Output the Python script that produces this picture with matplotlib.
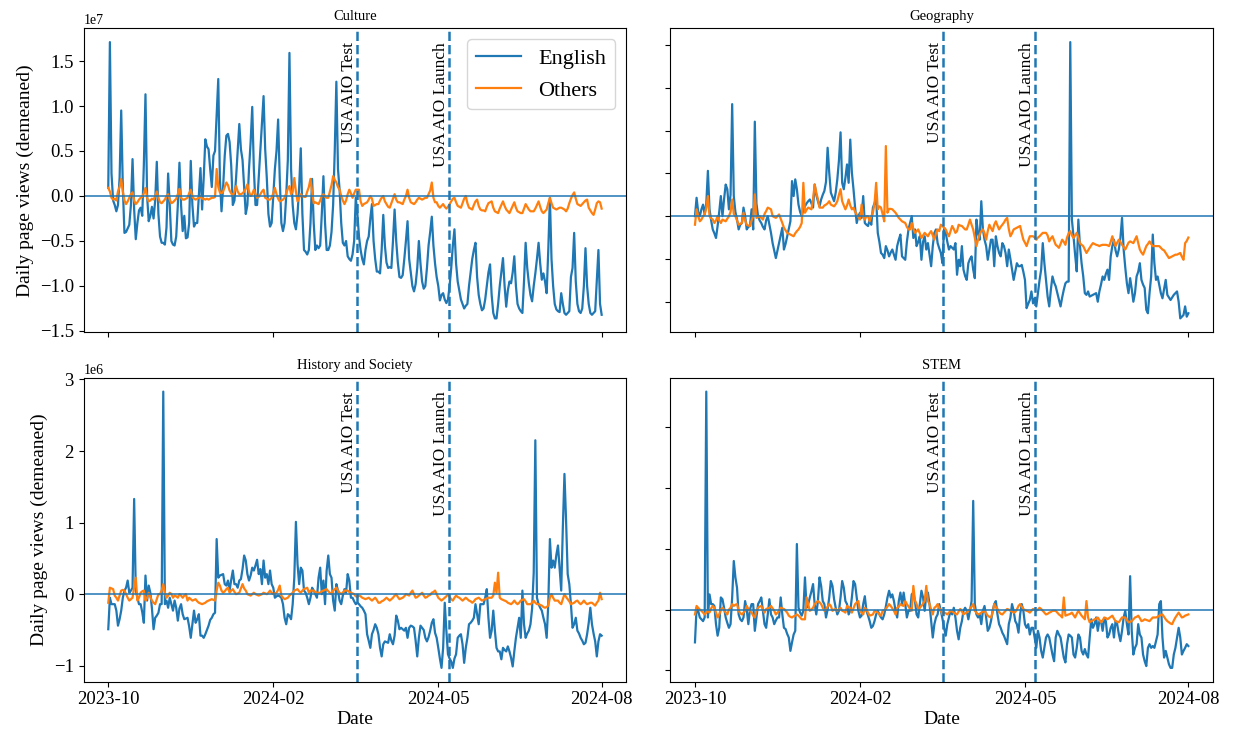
import matplotlib
matplotlib.use('Agg')
import matplotlib.pyplot as plt
import numpy as np
import pandas as pd

plt.rcParams['font.family'] = 'serif'
plt.rcParams['font.serif'] = ['Liberation Serif', 'DejaVu Serif']

start_date = '2023-10-01'
n_days = 306
tick_index = [0, 102, 204, 305]
tick_labels = ['2023-10', '2024-02', '2024-05', '2024-08']
event_names = ['USA AIO Test', 'USA AIO Launch']
event_dates = ['2024-03-02 14:00', '2024-04-28 12:00']
titles = ['Culture', 'Geography', 'History and Society', 'STEM']
scales = [1e7, 1.0, 1e6, 1.0]

culture_en = [
    0.09, 1.71, 0.25, -0.05, -0.10, -0.17, -0.10,
    0.20, 0.95, 0.10, -0.41, -0.40, -0.36, -0.32,
    -0.10, 0.41, -0.15, -0.48, -0.30, -0.16, -0.13,
    -0.22, 0.35, 1.13, 0.00, -0.28, -0.22, -0.12,
    -0.25, -0.05, 0.38, -0.20, -0.45, -0.52, -0.52,
    -0.54, -0.35, 0.25, -0.10, -0.50, -0.54, -0.55,
    -0.45, -0.10, 0.37, -0.10, -0.39, -0.22, -0.47,
    -0.46, -0.30, 0.39, -0.10, -0.34, -0.30, -0.30,
    0.00, 0.31, -0.15, 0.20, 0.63, 0.55, 0.52,
    0.30, 0.10, 0.45, 0.50, 0.90, 1.30, 0.20,
    -0.17, 0.10, 0.45, 0.67, 0.69, 0.60, 0.34,
    -0.10, -0.05, 0.20, 0.50, 0.80, 0.52, 0.40,
    0.10, -0.20, -0.10, 0.30, 0.60, 0.99, 0.30,
    -0.10, -0.10, 0.20, 0.50, 0.80, 1.11, 0.52,
    0.20, -0.20, -0.34, -0.30, 0.00, 0.30, 0.50,
    0.85, 0.20, -0.30, -0.39, -0.30, 0.00, 0.40,
    1.59, 0.30, -0.10, -0.30, -0.37, -0.20, 0.10,
    0.53, -0.20, -0.60, -0.62, -0.65, -0.60, -0.30,
    0.19, -0.30, -0.60, -0.55, -0.58, -0.55, -0.20,
    0.22, -0.30, -0.60, -0.60, -0.55, -0.40, -0.10,
    0.50, 1.27, 0.30, 0.07, -0.30, -0.52, -0.55,
    -0.50, -0.67, -0.70, -0.72, -0.65, -0.50, -0.02,
    -0.20, -0.45, -0.60, -0.70, -0.76, -0.60, -0.50,
    -0.45, -0.25, -0.09, -0.50, -0.70, -0.84, -0.84,
    -0.86, -0.60, -0.21, -0.55, -0.74, -0.80, -0.79,
    -0.80, -0.50, -0.15, -0.50, -0.74, -0.90, -0.91,
    -0.88, -0.70, -0.50, -0.28, -0.70, -0.85, -1.00,
    -1.06, -0.98, -0.80, -0.50, -0.75, -0.95, -1.03,
    -1.00, -0.80, -0.55, -0.40, -0.23, -0.55, -0.75,
    -0.90, -1.00, -1.16, -1.10, -1.08, -1.15, -1.19,
    -1.15, -1.00, -0.80, -0.55, -0.37, -0.75, -0.95,
    -1.05, -1.15, -1.20, -1.25, -1.22, -1.20, -1.00,
    -0.85, -0.70, -0.60, -0.52, -0.90, -1.10, -1.20,
    -1.27, -1.25, -1.15, -1.00, -0.85, -0.76, -1.10,
    -1.30, -1.36, -1.36, -1.20, -1.00, -0.85, -0.69,
    -1.00, -1.23, -1.05, -0.95, -0.97, -0.85, -0.67,
    -1.00, -1.20, -1.25, -1.28, -1.30, -0.95, -0.52,
    -0.80, -0.97, -1.10, -1.17, -1.00, -0.86, -0.70,
    -0.52, -0.75, -0.93, -0.86, -0.95, -1.08, -0.60,
    -0.02, -0.70, -1.00, -1.20, -1.26, -1.28, -1.29,
    -1.08, -1.20, -1.30, -1.32, -1.30, -1.28, -0.90,
    -0.80, -0.41, -0.95, -1.20, -1.28, -1.30, -1.25,
    -1.00, -0.58, -1.00, -1.20, -1.30, -1.32, -1.30,
    -1.28, -0.95, -0.60, -1.20, -1.32,
]

culture_ot = [
    0.09, 0.05, -0.02, -0.04, -0.03, -0.05, 0.05,
    0.10, 0.19, 0.05, -0.05, -0.09, -0.06, -0.02,
    0.02, 0.04, -0.05, -0.09, -0.07, -0.04, -0.02,
    -0.01, 0.03, 0.09, -0.02, -0.06, -0.05, -0.03,
    -0.04, 0.00, 0.05, -0.02, -0.07, -0.08, -0.06,
    -0.04, 0.00, 0.02, -0.04, -0.08, -0.07, -0.05,
    -0.03, 0.02, 0.08, -0.02, -0.04, -0.04, -0.03,
    -0.02, 0.03, 0.07, -0.01, -0.03, -0.04, -0.03,
    -0.02, 0.00, -0.03, -0.03, -0.04, -0.03, -0.04,
    -0.03, -0.02, -0.02, -0.01, 0.30, 0.10, 0.04,
    0.03, 0.05, 0.10, 0.15, 0.12, 0.06, 0.03,
    0.00, 0.05, 0.11, 0.05, 0.02, 0.02, 0.03,
    0.05, 0.08, 0.13, 0.05, 0.00, 0.02, 0.07,
    0.02, -0.02, -0.01, 0.02, 0.05, 0.07, -0.02,
    -0.03, -0.04, -0.04, -0.02, 0.03, 0.09, 0.02,
    -0.03, -0.06, -0.05, -0.04, -0.02, 0.03, 0.08,
    0.11, 0.02, 0.05, 0.20, 0.05, -0.06, -0.02,
    0.02, 0.00, -0.01, -0.01, 0.05, 0.10, 0.19,
    0.05, -0.08, -0.07, -0.08, -0.09, -0.05, 0.00,
    0.02, -0.01, -0.02, -0.02, 0.05, 0.12, 0.22,
    0.18, 0.15, 0.10, 0.07, 0.00, -0.05, -0.09,
    -0.05, 0.02, 0.07, 0.03, -0.02, 0.03, 0.07,
    0.07, 0.07, -0.06, -0.11, -0.09, -0.08, -0.07,
    -0.04, 0.00, -0.03, -0.11, -0.10, -0.09, -0.09,
    -0.05, -0.02, 0.00, -0.06, -0.09, -0.12, -0.13,
    -0.08, -0.03, 0.02, -0.04, -0.07, -0.07, -0.08,
    -0.09, -0.04, 0.00, 0.07, -0.02, -0.07, -0.08,
    -0.09, -0.07, -0.04, -0.02, -0.03, -0.04, -0.03,
    -0.02, -0.02, 0.02, 0.06, 0.15, -0.02, -0.07,
    -0.07, -0.11, -0.13, -0.11, -0.09, -0.12, -0.14,
    -0.12, -0.09, -0.06, -0.03, -0.02, -0.07, -0.11,
    -0.12, -0.13, -0.08, -0.03, 0.00, -0.08, -0.13,
    -0.14, -0.15, -0.10, -0.06, -0.04, -0.11, -0.15,
    -0.16, -0.16, -0.17, -0.12, -0.08, -0.07, -0.06,
    -0.13, -0.17, -0.18, -0.19, -0.14, -0.10, -0.06,
    -0.11, -0.15, -0.17, -0.19, -0.15, -0.11, -0.07,
    -0.13, -0.17, -0.18, -0.19, -0.19, -0.14, -0.09,
    -0.12, -0.15, -0.17, -0.17, -0.17, -0.14, -0.10,
    -0.06, -0.12, -0.17, -0.19, -0.17, -0.15, -0.08,
    -0.02, -0.08, -0.13, -0.14, -0.15, -0.14, -0.13,
    -0.13, -0.14, -0.15, -0.17, -0.14, -0.08, -0.03,
    0.01, 0.04, -0.03, -0.09, -0.10, -0.11, -0.09,
    -0.07, -0.05, -0.04, -0.13, -0.16, -0.19, -0.21,
    -0.15, -0.08, -0.06, -0.07, -0.14,
]

geography_en = [
    0.00, 0.43, 0.10, 0.00, 0.16, 0.27, 0.04,
    0.30, 1.06, 0.16, -0.10, -0.31, -0.40, -0.51,
    -0.23, 0.10, 0.47, 0.00, 0.40, 0.74, 0.63,
    0.16, 0.50, 2.62, 0.47, 0.10, -0.08, -0.31,
    -0.20, -0.16, 0.20, 0.00, -0.31, -0.25, -0.23,
    0.16, -0.31, 2.21, 0.30, 0.00, -0.10, -0.16,
    -0.25, -0.31, -0.10, 0.00, -0.20, -0.39, -0.63,
    -0.80, -0.98, -0.80, -0.63, -0.45, -0.27, -0.78,
    -0.65, -0.47, -0.30, -0.12, 0.82, 0.47, 0.86,
    0.63, 0.27, 0.10, 0.00, 0.15, 0.23, 0.30,
    0.35, 0.39, 0.30, 0.20, 0.74, 0.50, 0.35,
    0.23, 0.39, 0.50, 0.59, 0.80, 1.60, 1.02,
    0.55, 0.45, 0.35, 0.55, 0.86, 1.30, 1.96,
    0.78, 0.63, 0.90, 1.21, 0.78, 1.79, 1.02,
    0.63, 0.20, -0.16, 0.00, 0.08, -0.04, 0.47,
    -0.16, -0.20, -0.23, -0.08, -0.20, 0.20, 0.30,
    0.43, -0.39, -0.60, -0.86, -0.90, -0.98, -0.70,
    -0.80, -0.94, -0.85, -0.78, -0.90, -1.02, -0.70,
    -0.55, -0.43, -0.94, -0.98, -1.02, -0.60, -0.31,
    -0.15, 0.00, -0.51, -0.31, -0.70, -0.60, -0.47,
    -1.02, -0.60, -0.47, -0.78, -0.63, -0.90, -1.17,
    -0.70, -0.39, -0.31, -0.63, -0.75, -0.86, -1.10,
    -0.27, -0.39, -0.60, -0.78, -0.70, -0.74, -0.78,
    -0.63, -1.37, -1.02, -1.17, -0.70, -1.25, -1.40,
    -1.49, -1.10, -1.00, -0.94, -1.25, -1.45, -0.08,
    -0.40, -0.55, 0.35, -0.31, -0.55, -0.70, -1.02,
    -0.78, -0.55, -0.55, -1.17, -0.47, -0.70, -0.86,
    -0.94, -0.63, -0.70, -0.86, -1.17, -0.78, -1.00,
    -1.25, -1.49, -1.30, -1.10, -1.17, -1.17, -1.14,
    -1.30, -1.49, -2.15, -2.05, -1.96, -1.76, -2.04,
    -1.92, -2.11, -1.80, -1.50, -1.25, -0.63, -1.10,
    -1.50, -1.88, -2.11, -1.72, -1.41, -1.55, -1.64,
    -1.80, -1.96, -2.11, -1.90, -1.72, -1.57, -1.53,
    -1.53, 4.07, -0.08, -0.47, -0.90, -1.29, -0.08,
    -0.70, -1.10, -1.40, -1.80, -1.84, -1.76, -1.88,
    -1.86, -1.84, -1.82, -1.80, -2.00, -1.76, -1.60,
    -1.41, -1.49, -1.35, -1.25, -1.49, -0.94, -0.70,
    -0.55, -0.80, -0.94, -0.78, -0.51, -0.04, -0.78,
    -1.20, -1.57, -1.80, -1.45, -1.70, -2.00, -1.80,
    -1.41, -1.30, -1.10, -1.49, -1.60, -1.68, -2.19,
    -2.27, -1.80, -1.41, -0.43, -1.10, -1.49, -1.41,
    -1.60, -1.80, -1.92, -1.70, -1.49, -1.84, -1.90,
    -1.96, -1.90, -1.84, -1.80, -1.76, -2.00, -2.39,
    -2.35, -2.31, -2.11, -2.35, -2.27,
]

geography_ot = [
    -0.20, 0.16, 0.00, -0.12, -0.08, 0.00, 0.04,
    0.20, 0.47, 0.00, -0.05, -0.08, -0.16, -0.10,
    0.00, -0.10, -0.16, -0.08, -0.10, -0.12, -0.06,
    0.00, 0.10, 0.39, 0.05, 0.00, -0.10, -0.20,
    -0.18, -0.16, 0.08, -0.10, -0.20, -0.22, -0.23,
    -0.10, 0.00, 0.51, -0.04, -0.02, 0.00, -0.04,
    -0.08, 0.05, 0.12, 0.20, 0.18, 0.16, 0.00,
    -0.02, -0.04, 0.00, 0.04, -0.06, -0.16, -0.27,
    -0.33, -0.39, -0.41, -0.43, -0.45, -0.47, -0.40,
    -0.35, -0.31, -0.25, -0.16, 0.78, 0.08, 0.15,
    0.20, 0.18, 0.16, 0.40, 0.74, 0.55, 0.40,
    0.20, 0.20, 0.20, 0.25, 0.27, 0.30, 0.35,
    0.27, 0.25, 0.23, 0.28, 0.35, 0.50, 0.63,
    0.35, 0.25, 0.16, 0.25, 0.39, 0.25, 0.16,
    0.20, 0.10, 0.04, -0.02, -0.08, 0.27, -0.02,
    -0.08, 0.00, 0.00, -0.12, 0.00, 0.08, 0.30,
    0.78, 0.16, 0.23, 0.20, 0.05, -0.12, 1.64,
    0.08, 0.17, 0.17, 0.16, 0.12, 0.08, 0.02,
    -0.04, -0.08, -0.12, -0.14, -0.16, -0.25, -0.31,
    -0.31, -0.16, -0.30, -0.39, -0.35, -0.31, -0.40,
    -0.51, -0.45, -0.39, -0.43, -0.47, -0.40, -0.35,
    -0.45, -0.55, -0.40, -0.31, -0.35, -0.20, -0.23,
    -0.27, -0.31, -0.40, -0.47, -0.35, -0.23, -0.30,
    -0.39, -0.35, -0.20, -0.22, -0.23, -0.27, -0.31,
    -0.31, -0.20, -0.08, -0.20, -0.31, -0.50, -0.70,
    -0.55, -0.43, -0.35, -0.31, -0.40, -0.55, -0.35,
    -0.20, -0.28, -0.35, -0.20, -0.12, -0.22, -0.31,
    -0.25, -0.20, -0.15, -0.08, -0.04, -0.30, -0.47,
    -0.40, -0.31, -0.29, -0.27, -0.25, -0.23, -0.40,
    -0.55, -0.62, -0.70, -0.58, -0.47, -0.47, -0.47,
    -0.50, -0.55, -0.50, -0.47, -0.43, -0.39, -0.39,
    -0.39, -0.45, -0.59, -0.52, -0.47, -0.57, -0.67,
    -0.70, -0.74, -0.65, -0.55, -0.60, -0.67, -0.50,
    -0.40, -0.35, -0.45, -0.51, -0.45, -0.39, -0.50,
    -0.63, -0.67, -0.70, -0.78, -0.86, -0.80, -0.74,
    -0.68, -0.63, -0.65, -0.67, -0.68, -0.70, -0.68,
    -0.67, -0.67, -0.67, -0.68, -0.70, -0.60, -0.47,
    -0.60, -0.70, -0.62, -0.55, -0.60, -0.67, -0.72,
    -0.78, -0.70, -0.62, -0.59, -0.61, -0.63, -0.55,
    -0.47, -0.62, -0.78, -0.85, -0.90, -0.80, -0.70,
    -0.65, -0.59, -0.65, -0.70, -0.70, -0.70, -0.70,
    -0.70, -0.74, -0.78, -0.80, -0.86, -0.92, -0.98,
    -0.96, -0.94, -0.92, -0.90, -0.90, -0.88, -0.86,
    -0.95, -1.02, -0.63, -0.58, -0.50,
]

history_en = [
    -0.49, -0.05, -0.14, -0.14, -0.14, -0.23, -0.44,
    -0.35, -0.23, -0.05, 0.05, 0.09, 0.19, 0.02,
    0.05, 0.09, 1.33, 0.05, -0.05, -0.14, -0.14,
    -0.25, -0.40, 0.26, -0.09, 0.12, 0.02, -0.20,
    -0.49, -0.33, -0.30, -0.26, -0.14, -0.14, 2.83,
    -0.14, -0.09, -0.19, -0.05, -0.14, -0.23, -0.09,
    -0.19, -0.37, -0.20, -0.14, -0.28, -0.35, -0.34,
    -0.33, -0.45, -0.61, -0.42, -0.23, -0.40, -0.35,
    -0.28, -0.58, -0.58, -0.61, -0.56, -0.50, -0.44,
    -0.36, -0.33, -0.28, -0.26, 0.77, 0.23, 0.26,
    0.27, 0.28, 0.14, 0.12, 0.19, 0.05, 0.20,
    0.33, 0.14, 0.14, 0.09, 0.19, 0.21, 0.35,
    0.54, 0.47, 0.28, 0.19, 0.26, 0.37, 0.33,
    0.40, 0.48, 0.28, 0.35, 0.14, 0.47, 0.23,
    0.28, 0.14, 0.33, 0.14, 0.09, -0.05, -0.03,
    -0.02, -0.03, -0.05, -0.14, -0.33, -0.42, -0.28,
    -0.30, -0.35, -0.14, 0.23, 1.01, 0.42, 0.14,
    0.37, 0.33, 0.05, 0.02, -0.05, -0.14, -0.05,
    0.09, 0.05, 0.00, -0.05, 0.23, 0.37, 0.00,
    0.19, -0.14, 0.33, 0.54, 0.28, 0.23, -0.09,
    -0.23, 0.14, 0.05, -0.09, -0.14, -0.02, 0.07,
    0.02, 0.28, 0.19, -0.05, -0.05, -0.10, -0.14,
    -0.12, -0.14, -0.17, -0.19, -0.23, -0.28, -0.56,
    -0.65, -0.75, -0.56, -0.50, -0.42, -0.47, -0.56,
    -0.75, -0.87, -0.70, -0.66, -0.67, -0.68, -0.56,
    -0.65, -0.70, -0.58, -0.30, -0.37, -0.49, -0.47,
    -0.49, -0.51, -0.47, -0.61, -0.47, -0.44, -0.45,
    -0.47, -0.65, -0.87, -0.61, -0.44, -0.47, -0.50,
    -0.61, -0.66, -0.60, -0.51, -0.40, -0.35, -0.54,
    -0.61, -0.75, -0.90, -1.03, -0.75, -0.12, -0.51,
    -0.84, -0.90, -0.94, -1.03, -0.90, -0.84, -0.61,
    -0.58, -0.56, -0.70, -0.96, -0.75, -0.61, -0.42,
    -0.40, -0.37, -0.33, -0.14, -0.28, -0.42, -0.14,
    -0.14, -0.14, -0.05, 0.07, -0.33, -0.61, -0.51,
    -0.23, -0.51, -0.75, -0.80, -0.80, -0.91, -0.75,
    -0.78, -0.80, -0.73, -0.80, -0.89, -1.01, -0.80,
    -0.61, -0.47, -0.33, -0.61, 0.05, -0.42, -0.61,
    -0.55, -0.51, -0.42, -0.20, 0.30, 2.15, -0.05,
    -0.14, -0.19, -0.23, -0.33, -0.42, -0.61, -0.14,
    0.77, 0.37, 0.47, 0.37, 0.55, 0.68, 0.37,
    0.05, 0.93, 1.68, 1.03, 0.28, 0.14, -0.14,
    -0.47, -0.42, -0.33, -0.51, -0.55, -0.61, -0.65,
    -0.70, -0.68, -0.56, -0.40, -0.19, -0.42, -0.55,
    -0.66, -0.87, -0.66, -0.56, -0.58,
]

history_ot = [
    -0.12, 0.09, 0.08, 0.07, -0.02, -0.05, -0.09,
    -0.02, 0.05, 0.06, 0.05, 0.00, -0.05, -0.09,
    -0.07, -0.05, 0.10, 0.23, -0.09, -0.05, 0.02,
    0.04, 0.05, -0.09, -0.05, 0.02, -0.04, -0.09,
    -0.12, -0.14, -0.07, 0.00, 0.00, 0.05, 0.14,
    0.02, -0.05, -0.02, 0.02, 0.00, -0.05, -0.02,
    -0.03, -0.05, 0.00, -0.02, -0.05, -0.02, 0.00,
    -0.09, -0.05, -0.07, -0.09, -0.08, -0.07, -0.10,
    -0.12, -0.13, -0.14, -0.13, -0.12, -0.10, -0.09,
    -0.08, -0.07, -0.08, -0.09, 0.05, 0.16, 0.12,
    0.05, 0.02, 0.04, 0.07, 0.09, 0.02, 0.05,
    0.07, 0.03, 0.00, 0.01, 0.02, 0.08, 0.14,
    0.08, 0.05, 0.00, -0.01, -0.02, 0.00, 0.02,
    0.00, -0.01, -0.02, -0.01, 0.00, 0.02, 0.01,
    0.00, 0.02, 0.05, 0.02, 0.00, 0.01, 0.02,
    0.06, 0.12, -0.02, -0.05, -0.07, -0.06, -0.05,
    -0.02, 0.00, 0.02, 0.05, 0.06, 0.07, 0.04,
    0.02, 0.05, 0.07, 0.08, 0.09, 0.02, 0.05,
    0.05, 0.05, 0.03, 0.02, 0.02, 0.02, 0.04,
    0.05, 0.06, 0.07, 0.04, 0.02, 0.00, 0.05,
    0.07, 0.09, 0.05, 0.02, 0.00, 0.02, 0.05,
    0.05, 0.05, 0.03, 0.02, 0.01, 0.00, -0.03,
    -0.04, -0.02, -0.03, -0.05, -0.06, -0.07, -0.06,
    -0.05, -0.07, -0.09, -0.07, -0.05, -0.08, -0.12,
    -0.12, -0.10, -0.09, -0.07, -0.05, -0.07, -0.09,
    -0.07, -0.05, -0.02, 0.00, -0.04, -0.07, -0.06,
    -0.05, -0.03, 0.00, -0.01, -0.02, 0.02, 0.05,
    0.00, -0.05, -0.04, -0.02, 0.00, 0.02, -0.02,
    -0.05, -0.04, -0.02, -0.01, 0.02, 0.03, 0.05,
    0.00, -0.05, -0.07, -0.09, -0.07, -0.05, -0.03,
    0.00, -0.04, -0.07, -0.09, -0.05, -0.02, -0.04,
    -0.05, -0.07, -0.09, -0.07, -0.05, -0.07, -0.09,
    -0.10, -0.12, -0.10, -0.07, -0.06, -0.05, -0.07,
    -0.09, -0.08, -0.07, -0.06, -0.05, -0.05, -0.05,
    -0.02, 0.16, 0.02, 0.30, -0.05, -0.07, -0.08,
    -0.09, -0.10, -0.12, -0.13, -0.14, -0.12, -0.09,
    -0.12, -0.14, -0.12, -0.09, -0.08, -0.07, -0.10,
    -0.14, -0.14, -0.14, -0.12, -0.09, -0.12, -0.14,
    -0.14, -0.15, -0.16, -0.18, -0.19, -0.18, -0.16,
    -0.05, 0.00, -0.05, -0.09, -0.09, -0.09, -0.12,
    -0.14, -0.07, 0.00, -0.04, -0.07, -0.10, -0.14,
    -0.13, -0.12, -0.10, -0.09, -0.12, -0.14, -0.12,
    -0.09, -0.12, -0.14, -0.13, -0.12, -0.12, -0.14,
    -0.16, -0.12, -0.09, 0.02, -0.07,
]

stem_en = [
    -0.54, 0.03, -0.02, -0.13, -0.16, -0.19, -0.13,
    3.59, -0.13, 0.25, 0.09, 0.09, 0.06, -0.24,
    -0.43, -0.30, 0.20, 0.17, 0.03, -0.13, -0.22,
    -0.30, -0.24, 0.20, 0.80, 0.53, 0.36, -0.08,
    -0.16, -0.19, -0.13, 0.14, 0.00, -0.24, 0.00,
    0.09, 0.09, -0.35, -0.13, 0.09, 0.14, 0.20,
    -0.02, -0.24, -0.30, -0.08, 0.17, -0.08, -0.13,
    -0.24, -0.18, -0.13, -0.13, 0.20, -0.08, -0.30,
    -0.32, -0.40, -0.46, -0.68, -0.54, -0.41, -0.35,
    1.08, 0.03, -0.05, -0.10, -0.02, 0.53, 0.03,
    0.09, 0.20, 0.30, 0.42, 0.09, -0.08, 0.14,
    0.53, 0.39, 0.14, 0.09, -0.13, 0.00, 0.20,
    0.47, 0.39, 0.17, 0.03, -0.08, -0.02, 0.20,
    0.47, 0.36, 0.14, 0.09, -0.08, -0.02, 0.20,
    0.47, 0.42, 0.20, -0.02, -0.13, -0.10, 0.09,
    0.22, -0.02, -0.10, -0.19, -0.30, -0.27, -0.19,
    -0.08, -0.02, -0.08, -0.13, -0.16, -0.08, 0.05,
    0.20, 0.31, 0.20, 0.25, 0.14, -0.02, -0.13,
    0.14, 0.28, 0.09, 0.28, 0.09, -0.13, -0.02,
    -0.02, 0.25, 0.28, 0.14, -0.08, -0.13, 0.09,
    0.31, 0.20, -0.02, 0.25, 0.28, 0.09, -0.19,
    -0.46, -0.24, -0.13, -0.08, 0.09, -0.02, -0.15,
    -0.30, -0.43, -0.24, -0.13, -0.02, -0.08, 0.03,
    -0.13, -0.35, -0.49, -0.30, -0.19, -0.02, 0.03,
    -0.02, -0.16, -0.02, 0.14, 1.79, 0.09, -0.08,
    -0.13, -0.08, -0.24, -0.02, 0.06, -0.13, -0.35,
    -0.30, -0.19, -0.02, 0.09, 0.14, -0.08, -0.24,
    -0.30, -0.38, -0.43, -0.50, -0.57, -0.24, -0.13,
    0.09, -0.02, -0.19, -0.24, -0.38, -0.08, 0.09,
    -0.02, -0.24, -0.30, -0.24, -0.41, -0.30, -0.30,
    -0.46, -0.63, -0.35, -0.46, -0.68, -0.79, -0.63,
    -0.46, -0.41, -0.46, -0.60, -0.74, -0.85, -0.46,
    -0.35, -0.41, -0.46, -0.63, -0.79, -0.87, -0.57,
    -0.41, -0.43, -0.46, -0.74, -0.79, -0.63, -0.41,
    -0.46, -0.68, -0.74, -0.65, -0.74, -0.79, -0.46,
    -0.16, -0.30, -0.24, -0.13, -0.35, -0.19, -0.19,
    -0.35, -0.16, -0.19, -0.46, -0.41, -0.30, -0.24,
    -0.46, -0.19, -0.24, -0.40, -0.52, -0.35, -0.13,
    -0.02, -0.24, -0.41, 0.55, -0.35, -0.74, -0.63,
    -0.57, -0.24, -0.41, -0.46, -0.74, -0.85, -0.93,
    -0.63, -0.57, -0.63, -0.60, -0.63, -0.52, -0.41,
    0.09, 0.14, -0.46, -0.79, -0.68, -0.79, -0.90,
    -0.96, -0.96, -0.74, -0.63, -0.46, -0.30, -0.46,
    -0.74, -0.68, -0.63, -0.57, -0.60,
]

stem_ot = [
    -0.08, 0.06, 0.03, 0.00, -0.02, -0.05, -0.08,
    -0.05, -0.02, -0.05, 0.02, 0.06, 0.03, -0.05,
    -0.13, -0.08, 0.00, 0.03, 0.00, -0.05, -0.08,
    0.00, 0.03, 0.09, 0.06, 0.08, 0.09, -0.02,
    -0.06, -0.08, -0.05, -0.02, 0.06, 0.01, -0.02,
    -0.05, -0.10, -0.13, -0.02, 0.03, 0.05, 0.06,
    0.00, -0.05, 0.01, 0.02, 0.03, 0.06, 0.02,
    -0.02, -0.08, -0.05, -0.02, 0.03, 0.02, 0.01,
    -0.02, -0.05, -0.10, -0.12, -0.13, -0.11, -0.10,
    -0.08, -0.10, -0.13, -0.16, -0.16, -0.16, 0.20,
    0.09, -0.02, 0.00, 0.03, 0.09, 0.12, 0.14,
    0.12, 0.09, 0.03, -0.02, 0.00, 0.05, 0.09,
    0.06, -0.02, 0.00, 0.01, -0.02, 0.00, 0.03,
    -0.02, -0.03, -0.05, 0.06, 0.04, 0.03, -0.05,
    0.02, 0.09, 0.12, 0.14, -0.02, -0.05, -0.08,
    0.03, 0.00, -0.05, -0.10, -0.09, -0.08, -0.02,
    -0.03, -0.05, -0.08, -0.10, -0.02, -0.01, 0.01,
    0.05, 0.09, 0.06, 0.02, -0.02, -0.08, 0.03,
    0.05, 0.09, 0.07, 0.06, 0.14, 0.09, 0.05,
    0.01, -0.02, 0.39, 0.15, 0.09, 0.01, 0.03,
    0.06, 0.10, 0.14, 0.39, 0.14, 0.09, 0.00,
    -0.08, 0.03, 0.05, 0.09, 0.03, -0.02, -0.08,
    -0.05, -0.06, -0.08, -0.05, -0.02, -0.03, -0.05,
    -0.07, -0.08, -0.03, 0.01, -0.03, -0.08, -0.06,
    -0.05, -0.02, 0.01, 0.05, 0.09, -0.02, -0.05,
    -0.08, -0.07, -0.05, -0.03, -0.02, -0.06, -0.10,
    -0.12, -0.13, -0.05, 0.09, 0.04, 0.01, -0.04,
    -0.07, -0.08, -0.05, -0.02, 0.01, 0.00, -0.02,
    -0.03, -0.05, -0.04, 0.00, 0.06, 0.09, 0.05,
    0.01, -0.01, -0.02, -0.03, -0.05, -0.02, 0.01,
    0.00, -0.02, 0.00, 0.03, 0.01, -0.02, -0.05,
    -0.08, -0.07, -0.05, -0.04, -0.02, -0.02, -0.02,
    -0.05, -0.08, -0.10, -0.13, 0.20, -0.10, -0.09,
    -0.08, -0.07, -0.05, -0.09, -0.13, -0.07, -0.02,
    -0.06, -0.10, -0.13, -0.16, 0.14, -0.13, -0.21,
    -0.19, -0.18, -0.16, -0.15, -0.13, -0.17, -0.21,
    -0.18, -0.13, -0.14, -0.16, -0.14, -0.12, -0.10,
    -0.15, -0.19, -0.20, -0.21, -0.17, -0.13, -0.13,
    -0.13, -0.17, -0.21, -0.20, -0.19, -0.16, -0.13,
    -0.12, -0.10, -0.14, -0.19, -0.18, -0.16, -0.17,
    -0.18, -0.19, -0.16, -0.13, -0.13, -0.13, -0.12,
    -0.10, -0.09, -0.08, -0.12, -0.16, -0.19, -0.21,
    -0.23, -0.24, -0.18, -0.13, -0.09, -0.05, -0.09,
    -0.13, -0.12, -0.10, -0.09, -0.08,
]

english = [culture_en, geography_en, history_en, stem_en]
others = [culture_ot, geography_ot, history_ot, stem_ot]

dates = pd.date_range(start_date, periods=n_days, freq='D')
event_ts = [pd.Timestamp(d) for d in event_dates]

fig, axes = plt.subplots(2, 2, figsize=(12.33, 7.33), dpi=100, sharex=True)
fig.subplots_adjust(left=0.0678, right=0.9838, bottom=0.07, top=0.9614,
                    wspace=0.081, hspace=0.15)

for i, ax in enumerate(axes.flat):
    en = np.array(english[i]) * scales[i]
    ot = np.array(others[i]) * scales[i]
    ax.plot(dates, en, color='C0', lw=1.6, label='English')
    ax.plot(dates, ot, color='C1', lw=1.6, label='Others')
    ax.axhline(0, color='C0', lw=1.1)
    top = en.max()
    for name, ts in zip(event_names, event_ts):
        ax.axvline(ts, color='C0', ls='--', lw=1.8)
        ax.text(ts, top, name, rotation=90, va='top', ha='right', fontsize=12.5)
    ax.set_title(titles[i], fontsize=10.5)
    ax.tick_params(axis='both', labelsize=13.5)
    ax.set_xticks(dates[tick_index])
    ax.set_xticklabels(tick_labels)
    if i % 2 == 1:
        ax.tick_params(axis='y', labelleft=False)
    else:
        ax.set_ylabel('Daily page views (demeaned)', fontsize=14)
    if i >= 2:
        ax.set_xlabel('Date', fontsize=14, labelpad=2)

axes[0, 0].legend(loc='upper right', fontsize=16)

fig.savefig('out.png', dpi=100)
